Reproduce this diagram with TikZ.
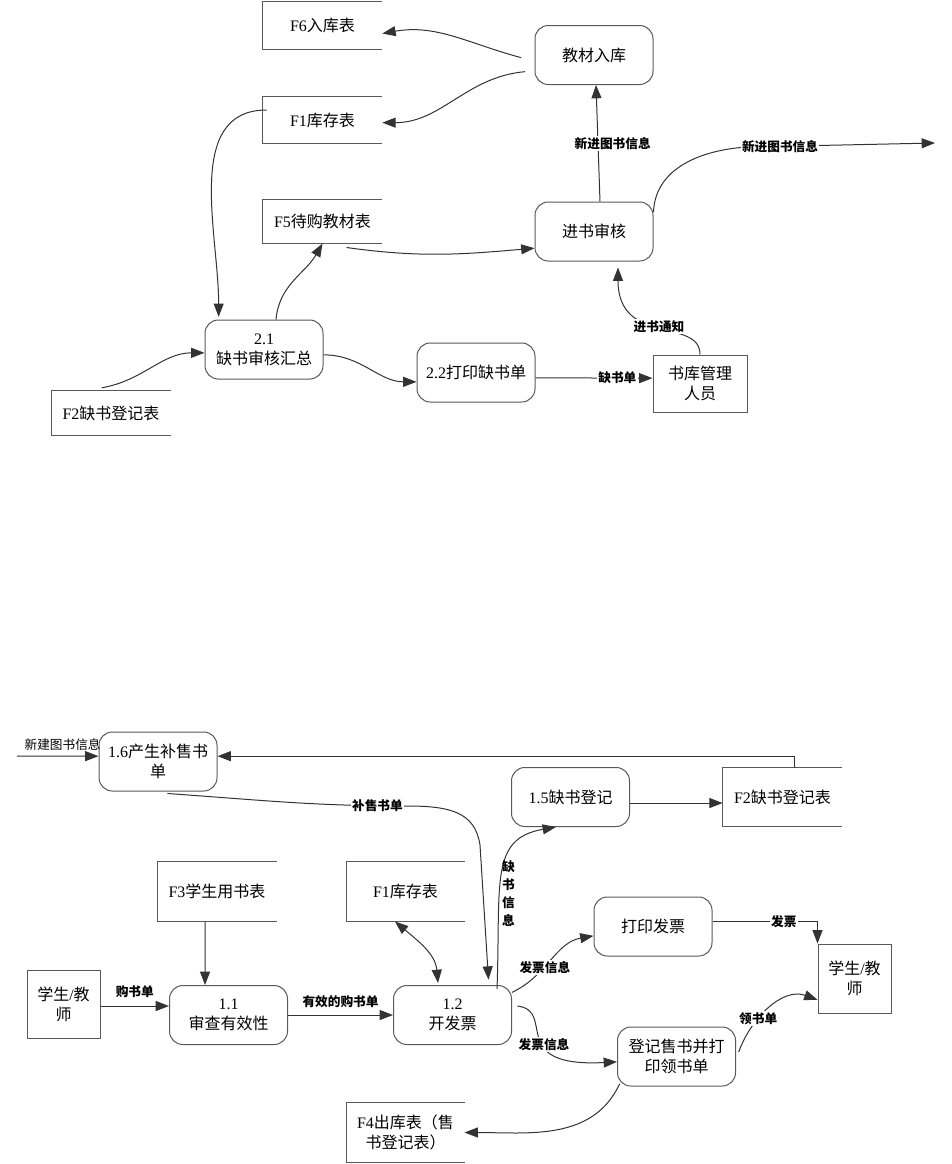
\documentclass[tikz,border=0pt]{standalone}
\usepackage{fontspec}
\setmainfont{Liberation Serif}
\newfontfamily\cjk{Noto Sans CJK SC}
\usetikzlibrary{arrows.meta}
\begin{document}
\begin{tikzpicture}[x=0.75pt,y=-0.75pt,line width=0.75pt,>={Triangle[length=10pt,width=7.5pt]},
  every node/.style={font=\cjk\fontsize{12}{15}\selectfont,align=center,inner sep=2pt},
  proc/.style={draw=black!65,rounded corners=10pt,minimum width=88.5pt,minimum height=44.25pt},
  store/.style={minimum width=89pt},
  ent/.style={draw=black!65},
  flow/.style={draw=black!80,->},
  lbl/.style={font=\cjk\bfseries\fontsize{9.5}{13.5}\selectfont,fill=white,inner sep=1pt}]
\useasboundingbox (0,0) rectangle (952,1164);
\node[store,minimum height=35.25pt] (f6) at (322.5,25.5) {\textrm{F6}入库表};
\node[store,minimum height=34.5pt] (f1t) at (322.5,120) {\textrm{F1}库存表};
\node[store,minimum height=32.25pt] (f5) at (322.5,221.5) {\textrm{F5}待购教材表};
\node[proc] (p21) at (264,349.5) {\textrm{2.1}\\缺书审核汇总};
\node[store,minimum height=33pt] (f2t) at (111,413) {\textrm{F2}缺书登记表};
\node[proc] (p22) at (476,372.5) {\textrm{2.2}打印缺书单};
\node[proc] (pin) at (594,55) {教材入库};
\node[proc] (pchk) at (594,231.5) {进书审核};
\node[ent,minimum width=70.5pt,minimum height=42.75pt] (mgr) at (700,383.5) {书库管理\\人员};
\coordinate (nb) at (935,143);
\coordinate (na) at (17,756);
\node[proc] (p16) at (158,761.5) {\textrm{1.6}产生补售书\\单};
\node[proc] (p15) at (570.5,797) {\textrm{1.5}缺书登记};
\node[store,minimum height=43.5pt] (f2b) at (782.5,797) {\textrm{F2}缺书登记表};
\node[store,minimum height=44.25pt] (f3) at (217,891.5) {\textrm{F3}学生用书表};
\node[store,minimum height=44.25pt,minimum width=87.75pt] (f1b) at (405.5,891.5) {\textrm{F1}库存表};
\node[ent,minimum width=54.75pt,minimum height=51pt] (s1) at (63.5,1004) {学生\textrm{/}教\\师};
\node[proc] (p11) at (228.5,1015) {\textrm{1.1}\\审查有效性};
\node[proc] (p12) at (452.5,1015) {\textrm{1.2}\\开发票};
\node[proc] (pinv) at (653,926.5) {打印发票};
\node[ent,minimum width=54.75pt,minimum height=51.75pt] (s2) at (854.5,978.5) {学生\textrm{/}教\\师};
\node[proc] (preg) at (676.5,1056.5) {登记售书并打\\印领书单};
\node[store,minimum height=44.25pt,minimum width=87.75pt] (f4) at (405.5,1132.5) {\textrm{F4}出库表（售\\书登记表）};
\foreach \s in {f6,f1t,f5,f2t,f2b,f3,f1b,f4}
  \draw[black!65] (\s.north east) -- (\s.north west) -- (\s.south west) -- (\s.south east);

\draw[flow] ([xshift=-10pt,yshift=-2pt]pin.west) to[out=165,in=10] ([yshift=-6pt]f6.east);
\draw[flow] ([xshift=-7pt,yshift=-12.5pt]pin.west) to[out=185,in=0] ([yshift=-2pt]f1t.east);
\draw[flow] ([xshift=3pt,yshift=7.5pt]f1t.west) to[out=180,in=90] ([xshift=-34pt,yshift=2pt]p21.north);
\draw[flow] ([xshift=9pt]p21.north) to[out=85,in=240] (f5.south);
\draw[flow] ([xshift=18pt,yshift=-3pt]f5.south) to[out=-8,in=185] ([yshift=-12.5pt]pchk.west);
\draw[flow] ([xshift=-7pt,yshift=2pt]f2t.north) to[out=10,in=180] ([yshift=-2.5pt]p21.west);
\draw[flow] ([yshift=-4pt]p21.east) to[out=0,in=180] ([yshift=-7pt]p22.west);
\draw[flow] ([yshift=-4pt]p22.east) -- node[lbl,pos=0.7]{缺书单} ([yshift=4pt]mgr.west);
\draw[flow] (mgr.north) to[out=90,in=-90,out looseness=0.8,in looseness=1.7] node[lbl]{进书通知} ([xshift=18pt,yshift=-4.5pt]pchk.south);
\draw[flow] ([xshift=4.5pt]pchk.north) -- node[lbl,xshift=11pt]{新进图书信息} ([xshift=1.5pt]pin.south);
\draw[flow] ([yshift=-8pt]pchk.north east) to[out=88,in=183] ([xshift=-140pt,yshift=-3pt]nb) -- node[lbl,pos=0.17]{新进图书信息} (nb);

\draw[flow] (na) -- node[above=3.5pt,pos=0.56,inner sep=0pt,font=\cjk\fontsize{9.5}{11}\selectfont]{新建图书信息} ([yshift=4pt]p16.west);
\draw[flow] ([xshift=9pt]f2b.north) |- ([yshift=4pt]p16.east);
\draw[flow] ([xshift=7pt,yshift=-1.5pt]p16.south) to[out=-4,in=180] node[lbl,pos=0.89]{补售书单} (407,806) .. controls (450,806) and (475,812) .. (480,845) -- ([xshift=27pt,yshift=4pt]p12.north);
\draw[flow] ([yshift=-4.5pt]p15.east) -- ([yshift=-4.5pt]f2b.west);
\draw[flow] ([xshift=33.4pt,yshift=-3pt]p12.north) to[out=88,in=190,out looseness=1.6] node[lbl,fill=none,pos=0.5,xshift=4pt,yshift=-16pt]{缺\\书\\信\\息} ([xshift=-10.9pt]p15.south);
\draw[flow] ([xshift=-9pt]f3.south) -- ([xshift=-17.6pt]p11.north);
\draw[flow] ([yshift=-1.5pt]s1.east) -- node[lbl,above=5pt,fill=none]{购书单} ([yshift=6.75pt]p11.west);
\draw[flow] (p11.east) -- node[lbl,above=4pt,fill=none]{有效的购书单} (p12.west);
\draw[flow,<->] ([xshift=-7.9pt]f1b.south) to[out=-40,in=95] ([xshift=-10.9pt,yshift=1.5pt]p12.north);
\draw[flow] ([yshift=17pt]p12.east) to[out=25,in=190] node[lbl,pos=0.4]{发票信息} ([yshift=-7pt]pinv.west);
\draw[flow] ([yshift=4pt]pinv.east) -| node[lbl,pos=0.34]{发票} (s2.north west);
\draw[flow] ([xshift=4pt,yshift=6.75pt]p12.east) to[out=-7,in=183,out looseness=0.9,in looseness=2.5] node[lbl,pos=0.58]{发票信息} ([yshift=-4pt]preg.west);
\draw[flow] ([xshift=2pt,yshift=3.4pt]preg.east) to[out=70,in=160] node[lbl,pos=0.35]{领书单} ([yshift=-16pt]s2.west);
\draw[flow] ([xshift=2pt,yshift=2pt]preg.south west) to[out=-115,in=0] (f4.east);
\end{tikzpicture}
\end{document}
